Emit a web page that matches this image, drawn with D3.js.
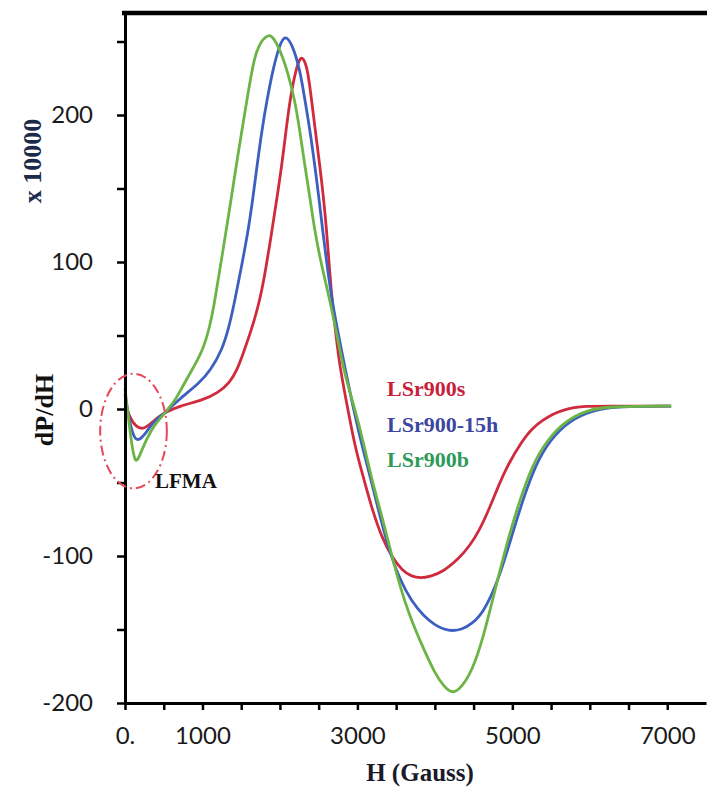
<!DOCTYPE html>
<html>
<head>
<meta charset="utf-8">
<script src="https://cdn.jsdelivr.net/npm/d3@7"></script>
<style>
  html, body { margin: 0; padding: 0; background: #ffffff; }
  svg { display: block; }
</style>
</head>
<body>
<div id="chart"></div>
<script>
// EPR derivative spectra dP/dH (x 10000) versus field H (Gauss)
const seriesNames = ["LSr900s", "LSr900-15h", "LSr900b"];

const fieldS = [0, 60, 140, 230, 330, 440, 530, 700, 1006, 1200, 1355, 1450, 1527, 1640, 1742, 1820, 1893, 1960, 2022, 2080, 2129, 2200, 2271, 2330, 2370, 2409, 2460, 2516, 2560, 2602, 2640, 2680, 2730, 2774, 2840, 2903, 2980, 3085, 3200, 3320, 3450, 3580, 3700, 3820, 3935, 4100, 4323, 4450, 4581, 4700, 4800, 4929, 5135, 5260, 5394, 5520, 5652, 5800, 5935, 6200, 7050];
const valueS = [5, -6, -12, -14, -10, -5, -2, 2, 6, 11, 18, 27, 38, 55, 74, 96, 120, 143, 165, 190, 210, 230, 241, 236, 226, 210, 188, 165, 145, 122, 95, 70, 47, 29, 10, -7.5, -28, -48, -70, -88, -101, -110, -114, -115, -114, -111, -101, -93, -82, -68, -55, -39, -21, -13, -7.5, -3.5, -0.7, 1, 2, 2, 2];

const field15h = [0, 50, 110, 170, 260, 350, 450, 530, 684, 968, 1100, 1252, 1340, 1419, 1500, 1587, 1650, 1703, 1768, 1832, 1910, 1990, 2065, 2160, 2258, 2323, 2387, 2452, 2500, 2555, 2610, 2671, 2750, 2839, 2930, 3010, 3100, 3174, 3300, 3420, 3548, 3700, 3858, 4000, 4120, 4232, 4350, 4480, 4619, 4813, 5006, 5135, 5290, 5484, 5742, 6040, 6300, 7050];
const value15h = [10, -7, -19, -22, -17, -10, -5, -2, 6, 18, 26, 40, 55, 74, 96, 120, 143, 165, 190, 210, 231, 247, 255, 248, 231, 210, 190, 165, 145, 120, 97, 74, 52, 28, 5, -14, -33, -48, -75, -98, -116, -131, -141, -147, -150, -151, -150, -146, -139, -118, -84, -62, -39, -21, -7.5, -1, 1.8, 2];

const fieldB = [0, 40, 90, 135, 180, 280, 380, 460, 540, 650, 750, 880, 1006, 1100, 1161, 1265, 1368, 1440, 1510, 1574, 1639, 1700, 1768, 1820, 1871, 1950, 2030, 2090, 2194, 2260, 2323, 2390, 2452, 2540, 2645, 2730, 2813, 2910, 3006, 3100, 3187, 3300, 3394, 3523, 3680, 3845, 4000, 4120, 4232, 4350, 4480, 4619, 4800, 4968, 5097, 5252, 5445, 5703, 5961, 6220, 7050];
const valueB = [14, -4, -26, -37, -33, -20, -11, -6, -1, 6, 16, 28, 40, 57, 74, 108, 142, 167, 190, 210, 231, 244, 251, 253, 255, 250, 240, 231, 210, 188, 165, 143, 120, 97, 74, 52, 29, 10, -7.5, -28, -48, -70, -89, -116, -142, -162, -180, -189, -194, -189, -178, -157, -118, -84, -62, -39, -21, -7.5, -1, 1.8, 2];

const xTickValues = [0, 500, 1000, 1500, 2000, 2500, 3000, 3500, 4000, 4500, 5000, 5500, 6000, 6500, 7000];
const xTickLabels = {0: "0.", 1000: "1000", 3000: "3000", 5000: "5000", 7000: "7000"};
const yTickValues = [-200, -150, -100, -50, 0, 50, 100, 150, 200, 250];
const yTickLabels = {"-200": "-200", "-100": "-100", "0": "0", "100": "100", "200": "200"};

// LFMA annotation ellipse, in data units
const lfmaCenter = [110, -15];
const lfmaRadius = [430, 39];

const W = 707, H = 791;
const colors = {
  line: ["#d02a3c", "#3d5fc0", "#6cb446"],
  text: ["#c8203c", "#3c46a0", "#2e9a5a"]
};

const svg = d3.select("#chart").append("svg")
  .attr("width", W).attr("height", H);
svg.append("rect").attr("width", W).attr("height", H).attr("fill", "#ffffff");

const x = d3.scaleLinear().domain([0, 7500]).range([125, 706]);
const y = d3.scaleLinear().domain([-200, 269.4]).range([703, 13]);

const series = [
  fieldS.map((h, i) => ({h, v: valueS[i]})),
  field15h.map((h, i) => ({h, v: value15h[i]})),
  fieldB.map((h, i) => ({h, v: valueB[i]}))
];

const line = d3.line()
  .x(d => x(d.h))
  .y(d => y(d.v))
  .curve(d3.curveBasis);

const curves = svg.append("g");
series.forEach((s, i) => {
  curves.append("path")
    .datum(s)
    .attr("fill", "none")
    .attr("stroke", colors.line[i])
    .attr("stroke-width", 2.8)
    .attr("stroke-linejoin", "round")
    .attr("d", line);
});

// axes
const tickFont = "Lato, 'Open Sans', sans-serif";

const xAxis = d3.axisBottom(x)
  .tickValues(xTickValues)
  .tickFormat(d => xTickLabels[d] || "")
  .tickSize(7)
  .tickPadding(17)
  .tickSizeOuter(0);

const gx = svg.append("g")
  .attr("transform", `translate(0,${y(-200)})`)
  .call(xAxis);

const yAxis = d3.axisLeft(y)
  .tickValues(yTickValues)
  .tickFormat(d => yTickLabels[String(d)] || "")
  .tickSize(8)
  .tickPadding(24)
  .tickSizeOuter(0);

const gy = svg.append("g")
  .attr("transform", `translate(${x(0)},0)`)
  .call(yAxis);

[gx, gy].forEach(g => {
  g.select(".domain").attr("stroke", "#000").attr("stroke-width", 3);
  g.selectAll(".tick line").attr("stroke", "#000").attr("stroke-width", 2.5);
  g.selectAll(".tick text")
    .attr("fill", "#1a1a1a")
    .style("font-family", tickFont)
    .style("font-size", "24px");
});

// top frame line
svg.append("line")
  .attr("x1", x(0) - 3).attr("x2", W)
  .attr("y1", y.range()[1]).attr("y2", y.range()[1])
  .attr("stroke", "#000").attr("stroke-width", 4.5);

// LFMA region
svg.append("ellipse")
  .attr("cx", x(lfmaCenter[0]))
  .attr("cy", y(lfmaCenter[1]))
  .attr("rx", x(lfmaCenter[0] + lfmaRadius[0]) - x(lfmaCenter[0]))
  .attr("ry", y(lfmaCenter[1] - lfmaRadius[1]) - y(lfmaCenter[1]))
  .attr("fill", "none")
  .attr("stroke", "#e4485a")
  .attr("stroke-width", 2)
  .attr("stroke-dasharray", "10,4,2,4");

const serif = "'Liberation Serif', 'Times New Roman', serif";

svg.append("text")
  .attr("x", 155).attr("y", 488)
  .attr("fill", "#111")
  .style("font-family", serif).style("font-weight", "bold").style("font-size", "21px")
  .text("LFMA");

// series labels
const legendY = [396, 432, 467];
seriesNames.forEach((name, i) => {
  svg.append("text")
    .attr("x", 387).attr("y", legendY[i])
    .attr("fill", colors.text[i])
    .style("font-family", serif).style("font-weight", "bold").style("font-size", "22px")
    .text(name);
});

// axis titles
svg.append("text")
  .attr("transform", "translate(41,161) rotate(-90)")
  .attr("text-anchor", "middle")
  .attr("fill", "#1c2b4a")
  .style("font-family", serif).style("font-weight", "bold").style("font-size", "26px")
  .text("x 10000");

svg.append("text")
  .attr("transform", "translate(53,410) rotate(-90)")
  .attr("text-anchor", "middle")
  .attr("fill", "#111")
  .style("font-family", serif).style("font-weight", "bold").style("font-size", "26px")
  .text("dP/dH");

svg.append("text")
  .attr("x", 420).attr("y", 781)
  .attr("text-anchor", "middle")
  .attr("fill", "#1a1a2a")
  .style("font-family", serif).style("font-weight", "bold").style("font-size", "25px")
  .text("H (Gauss)");
</script>
</body>
</html>
